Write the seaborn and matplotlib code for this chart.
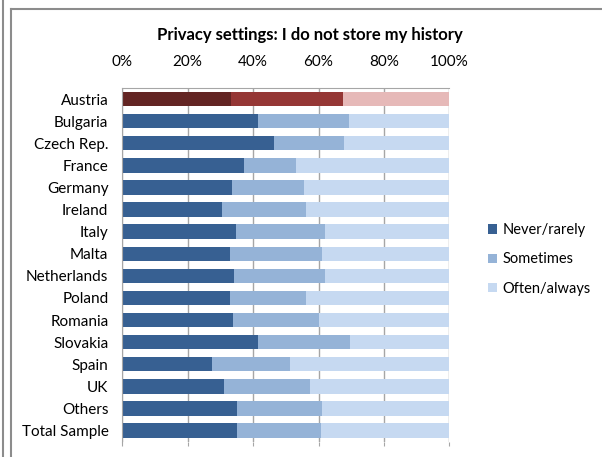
import numpy as np
import pandas as pd
import seaborn as sns
import matplotlib.pyplot as plt
from matplotlib.patches import Patch
from matplotlib.lines import Line2D

# dados (%)
countries = ["Austria", "Bulgaria", "Czech Rep.", "France", "Germany", "Ireland", "Italy",
             "Malta", "Netherlands", "Poland", "Romania", "Slovakia", "Spain", "UK",
             "Others", "Total Sample"]
never = [33.2, 41.4, 46.4, 37.3, 33.5, 30.5, 34.8, 32.8, 34.1, 32.8, 33.9, 41.4, 27.3, 31.2, 35.2, 35.2]
sometimes = [34.4, 27.8, 21.4, 15.7, 22.2, 25.7, 27.3, 28.4, 27.8, 23.4, 26.1, 28.1, 24.1, 26.2, 25.8, 25.5]
often = [32.4, 30.8, 32.2, 47.0, 44.3, 43.8, 37.9, 38.8, 38.1, 43.8, 40.0, 30.5, 48.6, 42.6, 39.0, 39.3]
series = ["Never/rarely", "Sometimes", "Often/always"]

blue = ["#376092", "#95b3d7", "#c6d9f1"]
red = ["#632523", "#953735", "#e6b9b8"]

df = pd.DataFrame({"country": countries, "never": never, "sometimes": sometimes, "often": often})
df["c1"] = df["never"]
df["c2"] = df["never"] + df["sometimes"]
df["c3"] = df["c2"] + df["often"]

plt.rcParams["font.family"] = ["Lato", "DejaVu Sans"]
fig = plt.figure(figsize=(6.02, 4.57), dpi=100)
ax = fig.add_axes([122.3 / 602, 1 - 441.6 / 457, 327 / 602, 353.6 / 457])

# barras empilhadas: desenha do total para o primeiro segmento
for k, col in enumerate(["c3", "c2", "c1"]):
    i = 2 - k
    pal = {c: (red[i] if c == "Austria" else blue[i]) for c in countries}
    sns.barplot(data=df, x=col, y="country", hue="country", palette=pal, legend=False,
                orient="h", width=0.65, linewidth=0, saturation=1, ax=ax)

ax.set_xlim(0, 100)
ax.set_xticks(np.arange(0, 101, 20))
ax.set_xticklabels([f"{v}%" for v in range(0, 101, 20)])
ax.set_xlabel("")
ax.set_ylabel("")
ax.set_axisbelow(True)
ax.grid(axis="x", color="#a6a6a6", linewidth=1)
ax.xaxis.set_tick_params(top=False, labeltop=True, bottom=True, labelbottom=False,
                         length=3, color="#a6a6a6", labelsize=11, pad=11)
ax.tick_params(axis="y", length=0, labelsize=11, pad=10)
for s in ["bottom", "right"]:
    ax.spines[s].set_visible(False)
for s in ["top", "left"]:
    ax.spines[s].set_color("#a6a6a6")

fig.text(0.515, 1 - 35 / 457, "Privacy settings: I do not store my history",
         ha="center", va="center", fontsize=12, fontweight="bold")

handles = [Patch(facecolor=blue[i], label=series[i]) for i in range(3)]
fig.legend(handles=handles, loc="upper left", bbox_to_anchor=(475 / 602, 1 - 210 / 457),
           frameon=False, fontsize=10.5, handlelength=0.6, handleheight=0.6,
           handletextpad=0.4, labelspacing=1.05)

# moldura da área do gráfico
fig.add_artist(Line2D([2.5 / 602, 2.5 / 602], [0, 1], color="#8c8c8c", lw=1.5))
fig.add_artist(Line2D([11 / 602, 11 / 602], [0, 1 - 9 / 457], color="#8c8c8c", lw=1.5))
fig.add_artist(Line2D([11 / 602, 1], [1 - 9 / 457, 1 - 9 / 457], color="#8c8c8c", lw=1.5))

fig.savefig("out.png", dpi=100)
